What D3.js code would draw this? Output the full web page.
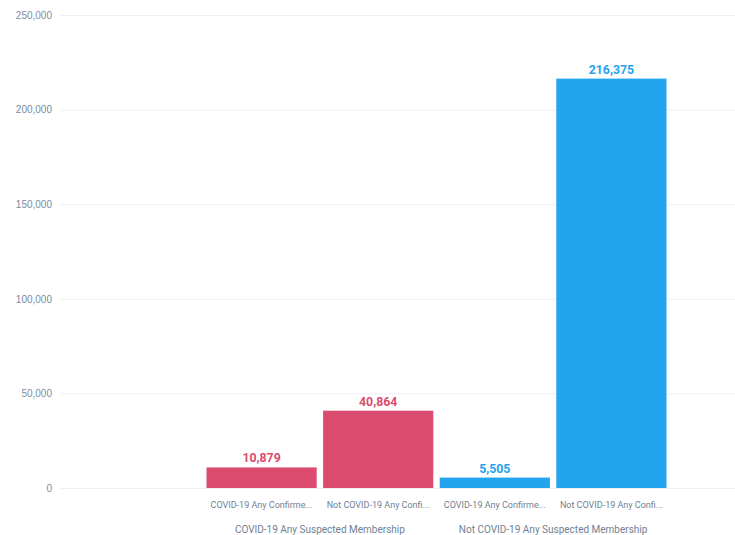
<!DOCTYPE html>
<html>
<head>
<meta charset="utf-8">
<script src="https://cdn.jsdelivr.net/npm/d3@7"></script>
<style>
  html, body { margin: 0; padding: 0; background: #ffffff; }
  svg { display: block; font-family: Roboto, "Noto Sans", sans-serif; }
</style>
</head>
<body>
<svg id="chart" width="735" height="535"></svg>
<script>
// Membership counts by suspected / confirmed COVID-19 status
const groups = ["COVID-19 Any Suspected Membership", "Not COVID-19 Any Suspected Membership"];
const categories = ["COVID-19 Any Confirmed Membership", "Not COVID-19 Any Confirmed Membership"];
const barGroups = [0, 0, 1, 1];
const barCategories = [0, 1, 0, 1];
const values = [10879, 40864, 5505, 216375];
const yTicks = [0, 50000, 100000, 150000, 200000, 250000];
const groupColors = ["#db4c6e", "#23a4ee"];

const svg = d3.select("#chart");
const plotLeft = 60, plotRight = 735, plotTop = 15, plotBottom = 488;

const bars = values.map((v, i) => ({
  key: i,
  group: barGroups[i],
  label: categories[barCategories[i]],
  value: v
}));

const y = d3.scaleLinear().domain([0, 250000]).range([plotBottom, plotTop]);
const x = d3.scaleBand()
  .domain(bars.map(d => d.key))
  .range([203, 670])
  .paddingInner(0.055)
  .paddingOuter(0.03);

// horizontal gridlines and value axis labels
const yAxis = d3.axisLeft(y)
  .tickValues(yTicks)
  .tickSize(-(plotRight - plotLeft))
  .tickPadding(8)
  .tickFormat(d3.format(","));

const yg = svg.append("g")
  .attr("transform", `translate(${plotLeft},0)`)
  .call(yAxis);
yg.select(".domain").remove();
yg.selectAll(".tick line").attr("stroke", "#eef0f3").attr("stroke-width", 1);
yg.selectAll(".tick text")
  .attr("fill", "#7a8ca4")
  .attr("font-size", 10)
  .attr("x", -8);

// bars
svg.append("g").selectAll("rect")
  .data(bars)
  .join("rect")
  .attr("x", d => x(d.key))
  .attr("y", d => y(d.value))
  .attr("width", x.bandwidth())
  .attr("height", d => y(0) - y(d.value))
  .attr("fill", d => groupColors[d.group]);

// value labels above bars
svg.append("g").selectAll("text")
  .data(bars)
  .join("text")
  .attr("x", d => x(d.key) + x.bandwidth() / 2)
  .attr("y", d => y(d.value) - 5)
  .attr("text-anchor", "middle")
  .attr("font-size", 12.3)
  .attr("font-weight", "bold")
  .attr("fill", d => groupColors[d.group])
  .text(d => d3.format(",")(d.value));

// category labels, truncated to fit each band
function truncate(textSel, maxWidth) {
  textSel.each(function(d) {
    const t = d3.select(this);
    let s = d.label;
    t.text(s);
    if (this.getComputedTextLength() <= maxWidth) return;
    while (s.length > 1) {
      s = s.slice(0, -1);
      t.text(s.trimEnd() + "...");
      if (this.getComputedTextLength() <= maxWidth) break;
    }
  });
}

svg.append("g").selectAll("text")
  .data(bars)
  .join("text")
  .attr("x", d => x(d.key) + x.bandwidth() / 2)
  .attr("y", 507.5)
  .attr("text-anchor", "middle")
  .attr("font-size", 9)
  .attr("fill", "#6f7f94")
  .call(truncate, x.bandwidth() - 6);

// group labels centered under their pair of bars
const groupCenters = groups.map((g, gi) => {
  const members = bars.filter(d => d.group === gi);
  const first = x(members[0].key);
  const last = x(members[members.length - 1].key) + x.bandwidth();
  return { label: g, cx: (first + last) / 2 };
});

svg.append("g").selectAll("text")
  .data(groupCenters)
  .join("text")
  .attr("x", d => d.cx)
  .attr("y", 533)
  .attr("text-anchor", "middle")
  .attr("font-size", 10)
  .attr("fill", "#6f7f94")
  .text(d => d.label);
</script>
</body>
</html>
